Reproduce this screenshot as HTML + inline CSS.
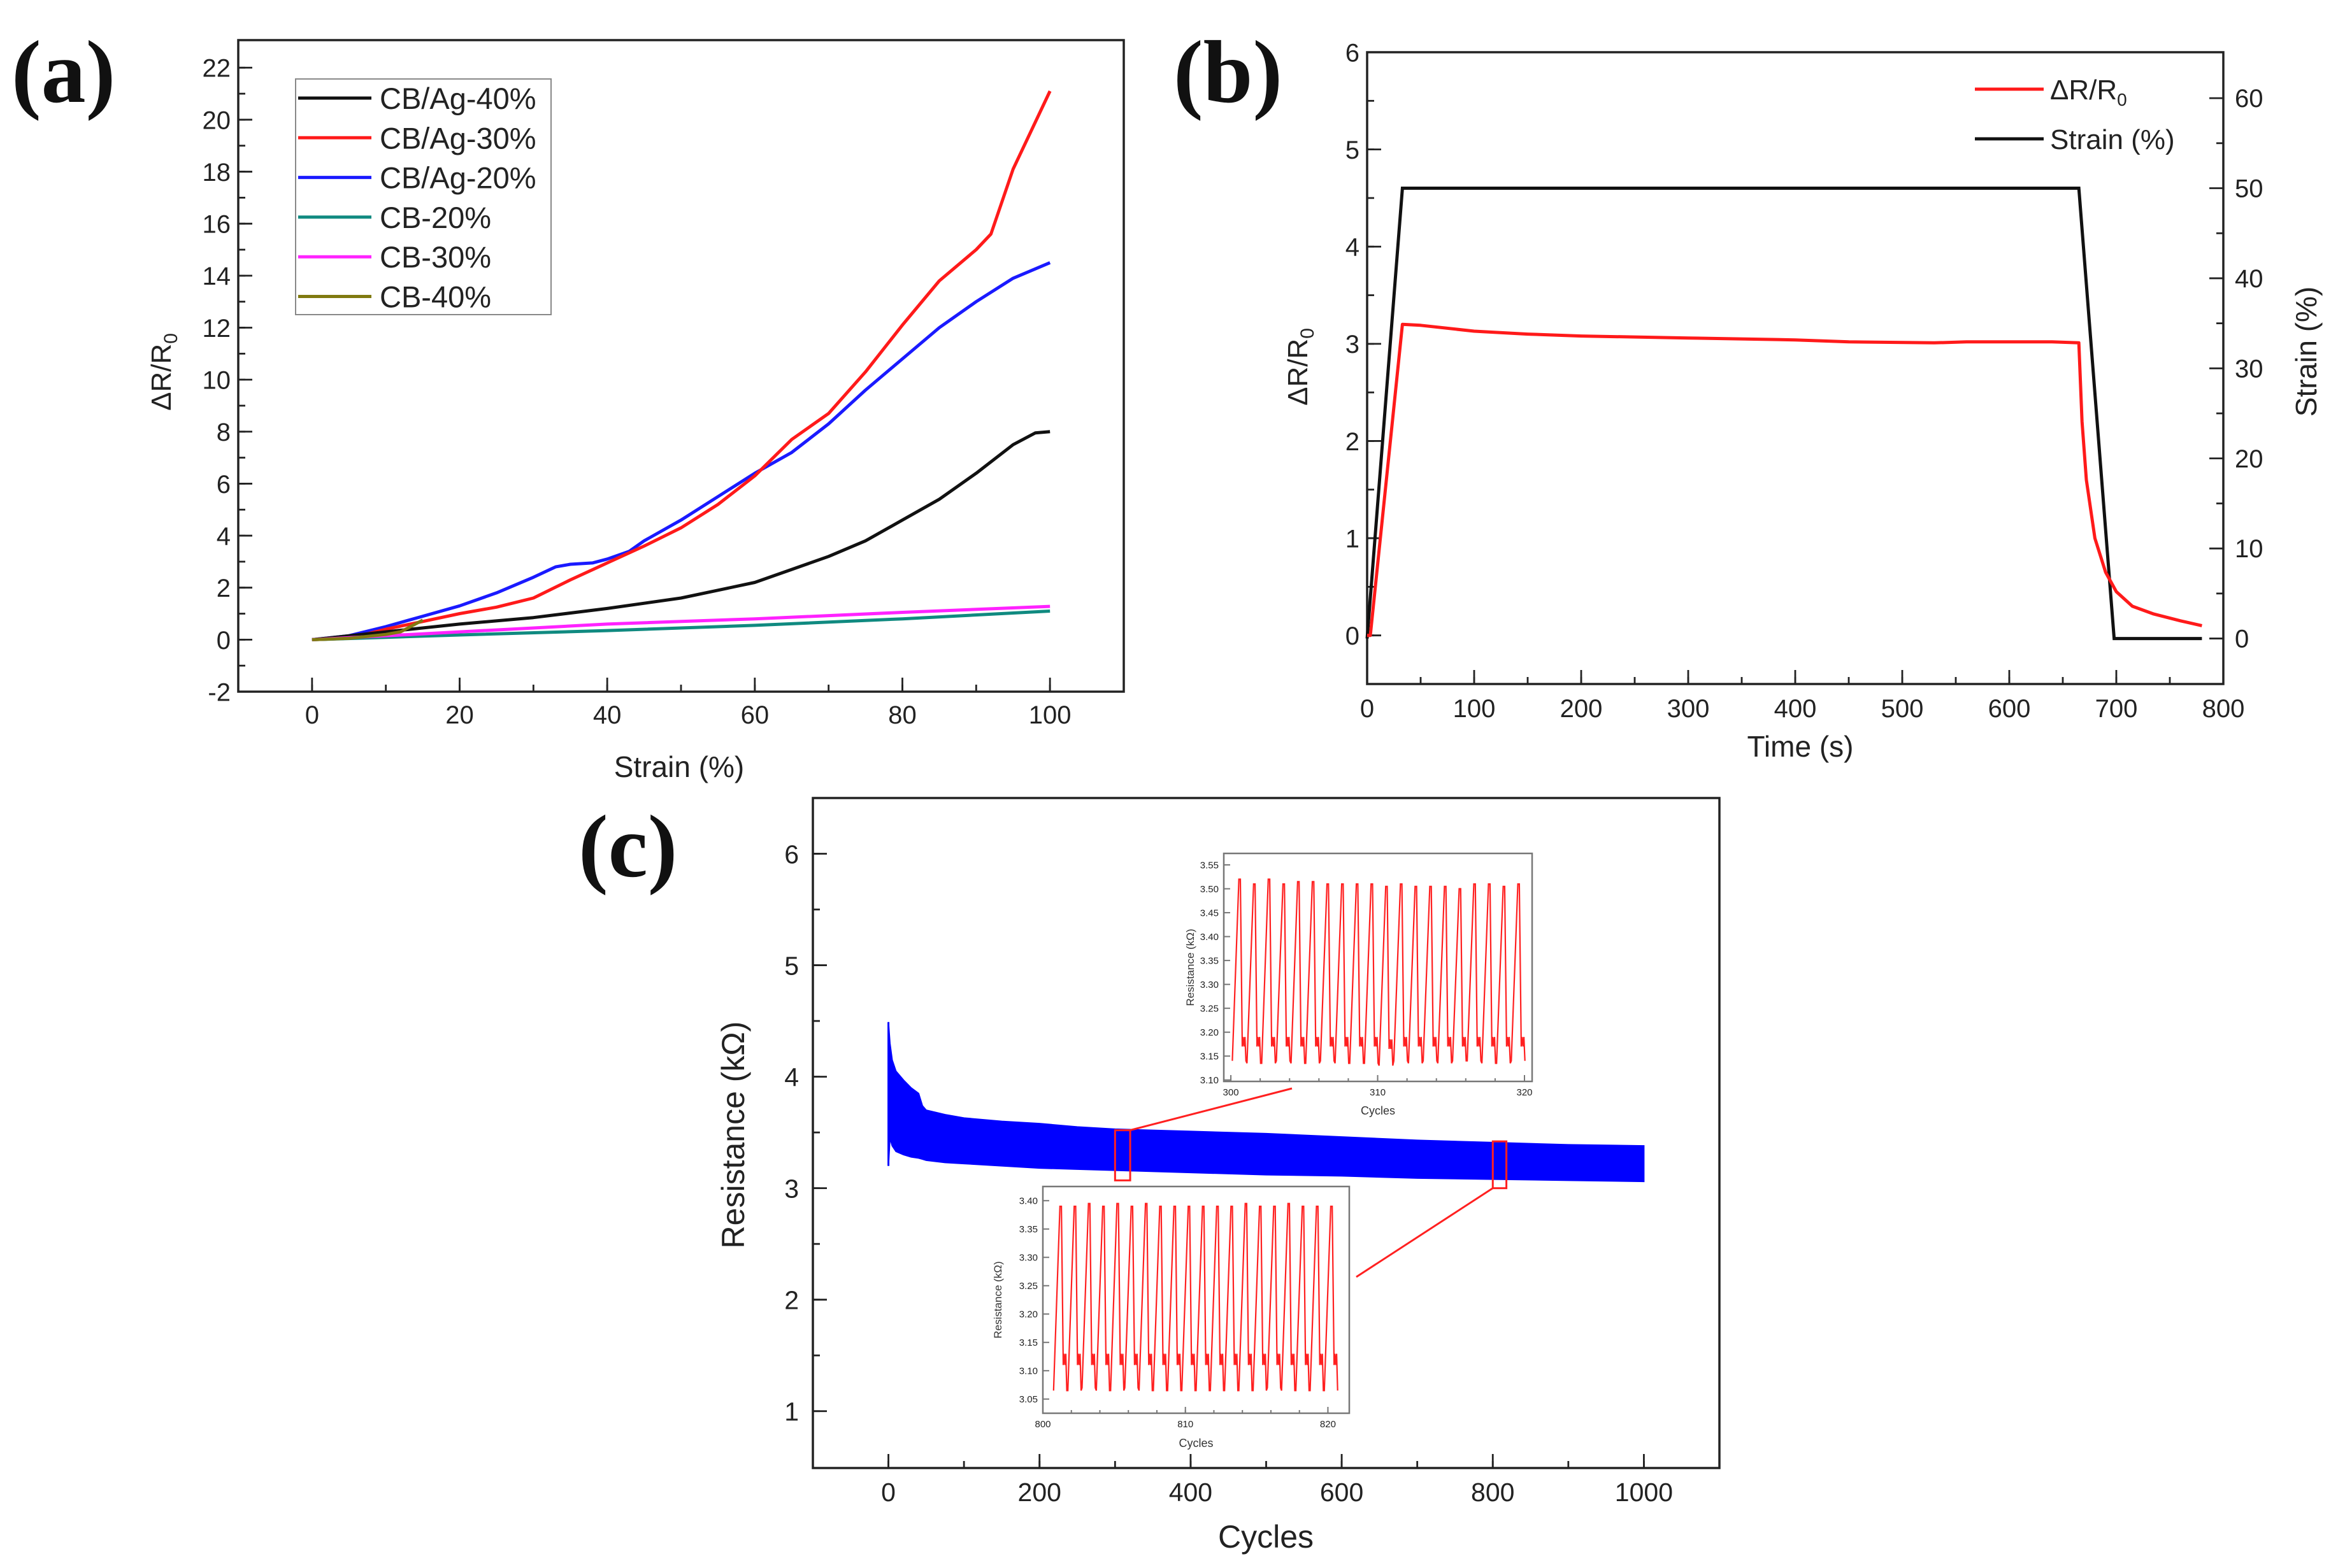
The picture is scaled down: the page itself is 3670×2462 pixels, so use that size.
<!DOCTYPE html>
<html><head><meta charset="utf-8">
<style>
html,body{margin:0;padding:0;background:#fff;}
svg{display:block;font-family:"Liberation Sans",sans-serif;}
.lbl{font-family:"Liberation Serif",serif;font-weight:bold;}
</style></head>
<body>
<svg id="fig" width="3670" height="2462" viewBox="0 0 3670 2462" xmlns="http://www.w3.org/2000/svg">
<rect width="3670" height="2462" fill="#fff"/>
</svg>
<script>
// ---------- Panel (a) data ----------
const aStrain40 = [0,10,20,30,40,50,55,60,65,70,75,80,85,90,95,98,100];
const aAg40 = [0,0.3,0.6,0.85,1.2,1.6,1.9,2.2,2.7,3.2,3.8,4.6,5.4,6.4,7.5,7.95,8.0];
const aStrain30 = [0,5,10,15,20,25,30,35,40,45,50,55,60,65,70,75,80,85,90,92,95,100];
const aAg30 = [0,0.05,0.4,0.7,1.0,1.25,1.6,2.3,2.95,3.6,4.3,5.2,6.3,7.7,8.7,10.3,12.1,13.8,15.0,15.6,18.1,21.1];
const aStrain20 = [0,5,10,15,20,25,30,33,35,38,40,43,45,50,55,60,65,70,75,80,85,90,95,100];
const aAg20 = [0,0.15,0.5,0.9,1.3,1.8,2.4,2.8,2.9,2.95,3.1,3.4,3.8,4.6,5.5,6.4,7.2,8.3,9.6,10.8,12.0,13.0,13.9,14.5];
const aStrainCB = [0,20,40,60,80,100];
const aCB20 = [0,0.18,0.35,0.55,0.8,1.1];
const aCB30 = [0,0.3,0.6,0.8,1.05,1.28];
const aStrainCB40 = [0,5,10,12,15];
const aCB40 = [0,0.05,0.2,0.3,0.75];
// ---------- Panel (b) data ----------
const bTimeStrain = [0,33,665,698,780];
const bStrain = [0,50,50,0,0];
const bTimeR = [0,3,33,50,100,150,200,300,400,450,530,560,640,665,668,672,680,690,700,715,735,760,780];
const bR = [0,0,3.2,3.19,3.13,3.1,3.08,3.06,3.04,3.02,3.01,3.02,3.02,3.01,2.2,1.6,1.0,0.65,0.45,0.3,0.22,0.15,0.1];
// ---------- Panel (c) data ----------
const cCycles = [0,2,5,10,20,30,40,45,50,75,100,150,200,250,300,400,500,600,700,800,900,1000];
const cUpper = [4.49,4.3,4.15,4.05,3.97,3.9,3.85,3.74,3.7,3.66,3.63,3.6,3.58,3.55,3.53,3.51,3.49,3.46,3.43,3.41,3.39,3.38];
const cLower = [3.2,3.45,3.38,3.33,3.3,3.28,3.27,3.26,3.25,3.23,3.22,3.2,3.18,3.17,3.16,3.14,3.12,3.11,3.09,3.08,3.07,3.06];
const in1Peaks = [3.52,3.51,3.52,3.51,3.515,3.515,3.51,3.51,3.51,3.51,3.505,3.51,3.505,3.505,3.505,3.5,3.51,3.51,3.505,3.51];
const in1Trough = [3.14,3.135,3.135,3.14,3.135,3.135,3.14,3.135,3.135,3.135,3.13,3.14,3.135,3.14,3.135,3.14,3.14,3.135,3.135,3.14];
const in1Bump = [3.19,3.19,3.19,3.19,3.19,3.19,3.19,3.19,3.19,3.19,3.185,3.19,3.19,3.19,3.19,3.19,3.19,3.19,3.19,3.19];
const in2Peaks = [3.39,3.39,3.395,3.39,3.395,3.39,3.395,3.39,3.39,3.39,3.39,3.39,3.39,3.395,3.39,3.39,3.395,3.39,3.39,3.39];
const in2Trough = [3.065,3.065,3.07,3.065,3.065,3.07,3.065,3.065,3.065,3.065,3.065,3.065,3.065,3.065,3.065,3.07,3.065,3.065,3.065,3.065];
const in2Bump = [3.13,3.13,3.13,3.13,3.13,3.13,3.13,3.13,3.13,3.13,3.13,3.13,3.13,3.13,3.13,3.13,3.13,3.13,3.13,3.13];

const NS='http://www.w3.org/2000/svg';
const svg=document.getElementById('fig');
function el(tag,attrs,parent,text){const e=document.createElementNS(NS,tag);for(const k in attrs)e.setAttribute(k,attrs[k]);if(text!==undefined)e.textContent=text;(parent||svg).appendChild(e);return e;}
function scale(d0,d1,p0,p1){return v=>p0+(v-d0)*(p1-p0)/(d1-d0);}
function pathFrom(xs,ys,sx,sy){return xs.map((x,i)=>(i?'L':'M')+sx(x).toFixed(1)+' '+sy(ys[i]).toFixed(1)).join(' ');}
function fmt(v,d){return d?v.toFixed(d):String(v);}

function axes(o){
  const g=o.g;
  el('rect',{x:o.L,y:o.T,width:o.R-o.L,height:o.B-o.T,fill:'none',stroke:o.frame||'#222','stroke-width':o.lw},g);
  o.xMin.forEach(v=>{const x=o.sx(v);el('line',{x1:x,x2:x,y1:o.B,y2:o.B-o.tl/2,stroke:o.frame||'#222','stroke-width':o.lw*0.8},g);});
  o.xMaj.forEach(v=>{const x=o.sx(v);el('line',{x1:x,x2:x,y1:o.B,y2:o.B-o.tl,stroke:o.frame||'#222','stroke-width':o.lw*0.8},g);
    const t=el('text',{x:x,y:o.B+o.xlo,'font-size':o.fs,'text-anchor':'middle',fill:'#222'},g,fmt(v,o.xd));
    
    });
  o.yMin.forEach(v=>{const y=o.sy(v);el('line',{x1:o.L,x2:o.L+o.tl/2,y1:y,y2:y,stroke:o.frame||'#222','stroke-width':o.lw*0.8},g);});
  o.yMaj.forEach(v=>{const y=o.sy(v);el('line',{x1:o.L,x2:o.L+o.tl,y1:y,y2:y,stroke:o.frame||'#222','stroke-width':o.lw*0.8},g);
    const t=el('text',{x:o.L-o.ylo,y:y+o.fs*0.36,'font-size':o.fs,'text-anchor':'end',fill:'#222'},g,fmt(v,o.yd));
    
    });
}
function range(a,b,s){const r=[];for(let v=a;v<=b+1e-9;v+=s)r.push(Math.round(v*1000)/1000);return r;}

// ===== Panel A =====
(function(){
  const g=el('g',{});
  
  
  const L=374,R=1764,T=63,B=1086;
  const sx=scale(-10,110,L,R), sy=scale(-2,23.06,B,T);
  axes({g,L,R,T,B,sx,sy,xMaj:range(0,100,20),xMin:range(0,100,10),yMaj:range(-2,22,2),yMin:range(-2,22,1),fs:40,lw:3.5,tl:22,xlo:50,ylo:12});
  const series=[[aStrain20,aAg20,'#1a1aff','cb-ag-20-line'],[aStrain30,aAg30,'#ff1a1a','cb-ag-30-line'],[aStrain40,aAg40,'#111','cb-ag-40-line'],
    [aStrainCB,aCB20,'#108a80','cb-20-line'],[aStrainCB,aCB30,'#ff22ff','cb-30-line'],[aStrainCB40,aCB40,'#807a10','cb-40-line']];
  series.forEach(s=>{const p=el('path',{d:pathFrom(s[0],s[1],sx,sy),fill:'none',stroke:s[2],'stroke-width':5,'stroke-linejoin':'round'},g);
    
    });
  const lg=el('g',{},g);
  
  
  el('rect',{x:464,y:124,width:401,height:370,fill:'#fff',stroke:'#888','stroke-width':2},lg);
  const names=['CB/Ag-40%','CB/Ag-30%','CB/Ag-20%','CB-20%','CB-30%','CB-40%'];
  const cols=['#111','#ff1a1a','#1a1aff','#108a80','#ff22ff','#807a10'];
  names.forEach((n,i)=>{const y=154+i*62.3;
    el('line',{x1:468,x2:583,y1:y,y2:y,stroke:cols[i],'stroke-width':5},lg);
    const t=el('text',{x:596,y:y+17,'font-size':47,fill:'#222'},lg,n);
    
    });
  const yt=el('text',{x:0,y:0,'font-size':44,'text-anchor':'middle',fill:'#222',transform:'translate(268,584) rotate(-90)'},g);
  
  
  yt.innerHTML='ΔR/R<tspan font-size="30" dy="10">0</tspan>';
  const xt=el('text',{x:1066,y:1220,'font-size':46,'text-anchor':'middle',fill:'#222'},g,'Strain (%)');
  
  
  const lb=el('text',{x:18,y:160,'font-size':140,class:'lbl',fill:'#111'},g,'(a)');
  
  
})();

// ===== Panel B =====
(function(){
  const g=el('g',{});
  
  
  const L=2146,R=3490,T=82,B=1074;
  const sx=scale(0,800,L,R), sy=scale(-0.5,6,B,T), sy2=scale(-5.05,65.1,B,T);
  axes({g,L,R,T,B,sx,sy,xMaj:range(0,800,100),xMin:range(0,800,50),yMaj:range(0,6,1),yMin:range(0,6,0.5),fs:40,lw:3.5,tl:22,xlo:52,ylo:12});
  range(0,60,5).forEach(v=>{const y=sy2(v);const l=(v%10===0)?22:11;el('line',{x1:R,x2:R-l,y1:y,y2:y,stroke:'#222','stroke-width':2.8},g);
    if(v%10===0){const t=el('text',{x:R+18,y:y+14,'font-size':40,fill:'#222'},g,String(v));
      
      }});
  const ps=el('path',{d:pathFrom(bTimeStrain,bStrain,sx,sy2),fill:'none',stroke:'#111','stroke-width':5},g);
  
  
  const pr=el('path',{d:pathFrom(bTimeR,bR,sx,sy),fill:'none',stroke:'#ff1a1a','stroke-width':5,'stroke-linejoin':'round'},g);
  
  
  el('line',{x1:3100,x2:3208,y1:140,y2:140,stroke:'#ff1a1a','stroke-width':5},g);
  const t1=el('text',{x:3218,y:156,'font-size':44,fill:'#222'},g);
  t1.innerHTML='ΔR/R<tspan font-size="28" dy="10">0</tspan>';
  
  
  el('line',{x1:3100,x2:3208,y1:218,y2:218,stroke:'#111','stroke-width':5},g);
  const t2=el('text',{x:3218,y:234,'font-size':44,fill:'#222'},g,'Strain (%)');
  
  
  const yt=el('text',{x:0,y:0,'font-size':44,'text-anchor':'middle',fill:'#222',transform:'translate(2052,576) rotate(-90)'},g);
  yt.innerHTML='ΔR/R<tspan font-size="30" dy="10">0</tspan>';
  
  
  const y2=el('text',{x:0,y:0,'font-size':46,'text-anchor':'middle',fill:'#222',transform:'translate(3636,552) rotate(-90)'},g,'Strain (%)');
  
  
  const xt=el('text',{x:2826,y:1188,'font-size':46,'text-anchor':'middle',fill:'#222'},g,'Time (s)');
  
  
  const lb=el('text',{x:1842,y:160,'font-size':140,class:'lbl',fill:'#111'},g,'(b)');
  
  
})();

// ===== Panel C =====
function cycleWave(x0,peaks,tr,bp){
  const xs=[],ys=[];
  peaks.forEach((p,i)=>{const b=x0+i;
    xs.push(b,b+0.45,b+0.55,b+0.68,b+0.74,b+0.8,b+0.86,b+0.93);
    ys.push(tr[i],p,p,bp[i]-0.02,bp[i],bp[i]-0.02,bp[i],tr[i]);});
  return [xs,ys];
}
(function(){
  const g=el('g',{});
  
  
  const L=1276,R=2699,T=1253,B=2305;
  const sx=scale(-100,1100,L,R), sy=scale(0.49,6.5,B,T);
  axes({g,L,R,T,B,sx,sy,xMaj:range(0,1000,200),xMin:range(0,1000,100),yMaj:range(1,6,1),yMin:range(1,6,0.5),fs:41,lw:3.5,tl:22,xlo:52,ylo:22});
  let d='M'+cCycles.map((c,i)=>sx(c).toFixed(1)+' '+sy(cUpper[i]).toFixed(1)).join(' L');
  for(let i=cCycles.length-1;i>=0;i--)d+=' L'+sx(cCycles[i]).toFixed(1)+' '+sy(cLower[i]).toFixed(1);
  const band=el('path',{d:d+'Z',fill:'#0000ff',stroke:'#0000ff','stroke-width':2},g);
  
  
  el('line',{x1:sx(0),x2:sx(0),y1:sy(cUpper[0]),y2:sy(cLower[0]),stroke:'#0000ff','stroke-width':3},g);
  [[300,320,3.07,3.52],[800,818,3.0,3.42]].forEach(r=>{const rc=el('rect',{x:sx(r[0]),y:sy(r[3]),width:sx(r[1])-sx(r[0]),height:sy(r[2])-sy(r[3]),fill:'none',stroke:'#ff2020','stroke-width':3},g);
    
    });
  el('line',{x1:sx(320),y1:sy(3.52),x2:2028,y2:1709,stroke:'#ff2020','stroke-width':3},g);
  el('line',{x1:sx(800),y1:sy(3.0),x2:2129,y2:2005,stroke:'#ff2020','stroke-width':3},g);
  function inset(name,L,R,T,B,x0,x1,y0,y1,xMaj,yMaj,peaks,tr,bp,xs0,ylx,xtY){
    const ig=el('g',{},g);
    
    
    el('rect',{x:L,y:T,width:R-L,height:B-T,fill:'#fff'},ig);
    const ix=scale(x0,x1,L,R), iy=scale(y0,y1,B,T);
    const w=cycleWave(xs0,peaks,tr,bp);
    el('path',{d:pathFrom(w[0],w[1],ix,iy),fill:'none',stroke:'#ff2020','stroke-width':2.2},ig);
    axes({g:ig,L,R,T,B,sx:ix,sy:iy,xMaj,xMin:range(xMaj[0],xMaj[xMaj.length-1],2),yMaj,yMin:[],fs:15,lw:2.5,tl:10,xlo:22,ylo:8,yd:2,frame:'#777'});
    const xt=el('text',{x:(L+R)/2,y:xtY,'font-size':18,'text-anchor':'middle',fill:'#333'},ig,'Cycles');
    
    
    const yt=el('text',{x:0,y:0,'font-size':17,'text-anchor':'middle',fill:'#333',transform:'translate('+ylx+','+((T+B)/2)+') rotate(-90)'},ig,'Resistance (kΩ)');
    
    
  }
  inset('inset-300-320',1921,2405,1340,1698,299.52,320.52,3.097,3.574,[300,310,320],range(3.10,3.55,0.05),in1Peaks,in1Trough,in1Bump,300.1,1874,1750);
  inset('inset-800-820',1637,2118,1863,2219,800,821.5,3.025,3.425,[800,810,820],range(3.05,3.40,0.05),in2Peaks,in2Trough,in2Bump,800.75,1572,2272);
  const yt=el('text',{x:0,y:0,'font-size':50,'text-anchor':'middle',fill:'#222',transform:'translate(1168,1782) rotate(-90)'},g,'Resistance (kΩ)');
  
  
  const xt=el('text',{x:1987,y:2430,'font-size':50,'text-anchor':'middle',fill:'#222'},g,'Cycles');
  
  
  const lb=el('text',{x:908,y:1376,'font-size':140,class:'lbl',fill:'#111'},g,'(c)');
  
  
})();
</script>
</body></html>
